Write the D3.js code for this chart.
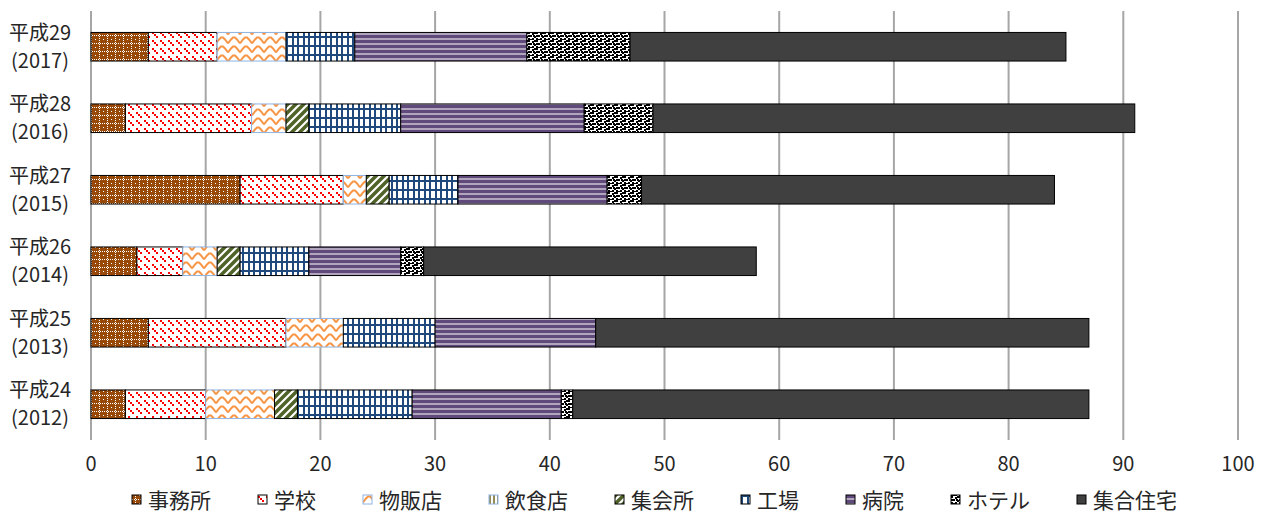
<!DOCTYPE html>
<html>
<head>
<meta charset="utf-8">
<script src="https://cdn.jsdelivr.net/npm/d3@7"></script>
<style>
  body { margin: 0; background: #fff; }
  svg text { font-family: "Noto Sans CJK JP", "Noto Sans", sans-serif; fill: #262626; }
</style>
</head>
<body>
<div id="chart"></div>
<script>
// Category labels (top to bottom)
const yearsJp = ['平成29', '平成28', '平成27', '平成26', '平成25', '平成24'];
const yearsAd = ['(2017)', '(2016)', '(2015)', '(2014)', '(2013)', '(2012)'];

// Series names in stacking / legend order
const seriesNames = ['事務所', '学校', '物販店', '飲食店', '集会所', '工場', '病院', 'ホテル', '集合住宅'];

// Series values, same order as the categories
const jimusho = [5, 3, 13, 4, 5, 3];
const gakko = [6, 11, 9, 4, 12, 7];
const buppan = [6, 3, 2, 3, 5, 6];
const inshoku = [0, 0, 0, 0, 0, 0];
const shukai = [0, 2, 2, 2, 0, 2];
const kojo = [6, 8, 6, 6, 8, 10];
const byoin = [15, 16, 13, 8, 14, 13];
const hotel = [9, 6, 3, 2, 0, 1];
const shugo = [38, 42, 36, 29, 43, 45];

const xTicks = [0, 10, 20, 30, 40, 50, 60, 70, 80, 90, 100];

const seriesValues = [jimusho, gakko, buppan, inshoku, shukai, kojo, byoin, hotel, shugo];

let w = 1269,
h = 515,
margin = { top: 11, right: 31, bottom: 75, left: 91 },

// build rows for d3.stack
rows = yearsJp.map((y, i) => {
  let r = { key: y, ad: yearsAd[i] };
  seriesNames.forEach((s, j) => r[s] = seriesValues[j][i]);
  return r;
}),
stacked = d3.stack().keys(seriesNames)(rows),

x = d3.scaleLinear().
domain([0, 100]).
range([margin.left, w - margin.right]),

y = d3.scaleBand().
domain(yearsJp).
range([margin.top, h - margin.bottom]).
paddingInner(0.6).
paddingOuter(0.3),

svg = d3.select('#chart').
append('svg').
attr('width', w).
attr('height', h),

defs = svg.append('defs');

// ---- fill patterns (rough copies of the spreadsheet hatch styles) ----
function pattern(id, pw, ph, bg) {
  let p = defs.append('pattern').
  attr('id', id).
  attr('patternUnits', 'userSpaceOnUse').
  attr('width', pw).
  attr('height', ph);
  p.append('rect').attr('width', pw).attr('height', ph).attr('fill', bg);
  return p;
}
function dots(p, list, size, color) {
  list.forEach(d =>
  p.append('rect').attr('x', d[0]).attr('y', d[1]).attr('width', size).attr('height', size).attr('fill', color));
}

// 事務所: brown with white crosses
let pJ = pattern('p-jimusho', 8, 8, '#984807');
dots(pJ, [[3, 0], [3, 2], [3, 4], [3, 6], [0, 3], [2, 3], [4, 3], [6, 3], [7, 7]], 1, '#fff');

// 学校: red dashed down diagonal
let pG = pattern('p-gakko', 8, 8, '#fff');
dots(pG, [[0, 0], [2, 2], [4, 4]], 2, '#ff0000');

// 物販店: orange wave
let pB = pattern('p-buppan', 12, 9, '#fff');
pB.append('path').
attr('d', 'M0,7.5 L3,3.5 L5,1.5 L7,1.5 L9,3.5 L12,7.5').
attr('fill', 'none').
attr('stroke', '#f79646').
attr('stroke-width', 2);

// 飲食店: olive-gold vertical stripes
let pI = pattern('p-inshoku', 4, 4, '#fff');
pI.append('rect').attr('width', 2).attr('height', 4).attr('fill', '#948a54');

// 集会所: olive wide up diagonal
let pS = pattern('p-shukai', 8, 8, '#fff');
pS.append('path').
attr('d', 'M-2,10 L10,-2 M-6,6 L6,-6 M2,14 L14,2').
attr('stroke', '#4f6228').
attr('stroke-width', 3.5);

// 工場: navy plaid grid
let pK = pattern('p-kojo', 11, 9, '#fff');
pK.append('rect').attr('x', 0).attr('width', 2).attr('height', 9).attr('fill', '#1f497d');
pK.append('rect').attr('x', 6).attr('width', 2).attr('height', 9).attr('fill', '#1f497d');
pK.append('rect').attr('y', 0).attr('width', 11).attr('height', 2).attr('fill', '#1f497d');

// 病院: purple with thin white horizontal lines
let pH = pattern('p-byoin', 5, 5, '#604a7b');
pH.append('rect').attr('y', 3.5).attr('width', 5).attr('height', 1).attr('fill', '#fff');

// ホテル: black confetti
let pT = pattern('p-hotel', 8, 8, '#fff');
dots(pT, [[0, 0], [4, 1], [2, 3], [6, 4], [0, 6], [4, 6], [6, 0], [2, 7], [0, 3], [5, 3]], 2, '#000');

const fills = {
  '事務所': 'url(#p-jimusho)',
  '学校': 'url(#p-gakko)',
  '物販店': 'url(#p-buppan)',
  '飲食店': 'url(#p-inshoku)',
  '集会所': 'url(#p-shukai)',
  '工場': 'url(#p-kojo)',
  '病院': 'url(#p-byoin)',
  'ホテル': 'url(#p-hotel)',
  '集合住宅': '#404040' };

const strokes = { '物販店': '#8eb4e3', '飲食店': '#8eb4e3' };

// Vertical gridlines
svg.append('g').
selectAll('line').
data(xTicks.slice(1)).
enter().
append('line').
attr('x1', d => x(d)).
attr('x2', d => x(d)).
attr('y1', margin.top).
attr('y2', h - margin.bottom).
attr('stroke', '#a6a6a6').
attr('stroke-width', 2);

// Category axis line
svg.append('line').
attr('x1', x(0)).
attr('x2', x(0)).
attr('y1', margin.top).
attr('y2', h - margin.bottom).
attr('stroke', '#a6a6a6').
attr('stroke-width', 2);

// Stacked bars
svg.append('g').
selectAll('g').
data(stacked).
enter().
append('g').
attr('fill', d => fills[d.key]).
attr('stroke', d => strokes[d.key] || '#000').
selectAll('rect').
data(d => d.filter(s => s[1] - s[0] > 0)).
enter().
append('rect').
attr('x', d => x(d[0])).
attr('y', d => y(d.data.key)).
attr('width', d => x(d[1]) - x(d[0])).
attr('height', y.bandwidth()).
attr('stroke-width', 1);

// X tick labels
svg.append('g').
selectAll('text').
data(xTicks).
enter().
append('text').
attr('x', d => x(d)).
attr('y', h - margin.bottom + 31).
attr('text-anchor', 'middle').
style('font-size', '20px').
text(d => d);

// Two-line category labels
let cat = svg.append('g').
selectAll('text').
data(rows).
enter().
append('text').
attr('text-anchor', 'middle').
style('font-size', '20px');
cat.append('tspan').
attr('x', 40).
attr('y', d => y(d.key) + y.bandwidth() / 2 - 7).
text(d => d.key);
cat.append('tspan').
attr('x', 40).
attr('y', d => y(d.key) + y.bandwidth() / 2 + 21).
text(d => d.ad);

// Legend, laid out left to right by text width
let legend = svg.append('g'),
lx = 132;
seriesNames.forEach(name => {
  let item = legend.append('g').attr('transform', 'translate(' + lx + ',0)');
  item.append('rect').
  attr('x', 0).
  attr('y', 495).
  attr('width', 9).
  attr('height', 9).
  attr('fill', fills[name]).
  attr('stroke', strokes[name] || '#000').
  attr('stroke-width', 1);
  let t = item.append('text').
  attr('x', 16).
  attr('y', 508).
  style('font-size', '21px').
  text(name);
  lx += 16 + t.node().getComputedTextLength() + 47;
});
</script>
</body>
</html>
